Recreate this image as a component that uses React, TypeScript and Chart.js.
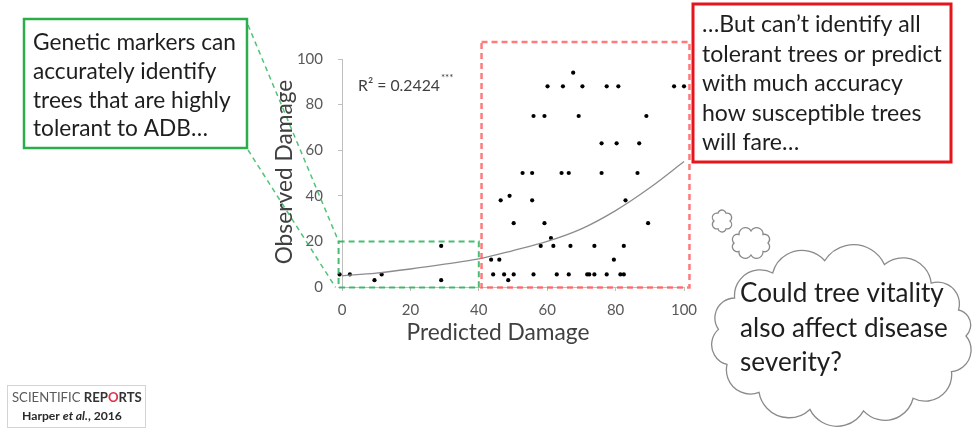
import React, { useEffect, useRef } from 'react';
import { Chart, registerables } from 'chart.js';

Chart.register(...registerables);

// ---------- DATA ----------
const predicted = [
  -0.7, 2.3, 9.5, 11.6, 29, 29, 43.6, 46, 44.2, 47.4,
  48.6, 50.2, 46.4, 49, 50.2, 52.8, 55.6, 55.6, 56, 59.2,
  56, 59.2, 58.1, 61.1, 61.8, 60.1, 62.8, 64.6, 64.2, 66.3,
  66.3, 66.8, 67.6, 69.2, 70.3, 71.7, 72.3, 73.8, 73.8, 75.9,
  75.9, 77.4, 77.4, 79.5, 80.3, 80.8, 81.4, 82.4, 82.4, 82.9,
  86.4, 86.9, 89, 89.5, 97.1, 100,
];
const observed = [
  5.5, 5.5, 3, 5.5, 18, 3, 12, 12, 5.5, 5.5,
  3, 5.5, 38, 40, 28, 50, 50, 38, 75, 75,
  5.5, 28, 18, 21.5, 18, 88, 5.5, 88, 50, 50,
  5.5, 18, 94, 75, 88, 5.5, 5.5, 5.5, 18, 63,
  50, 88, 5.5, 12, 63, 88, 5.5, 5.5, 18, 38,
  50, 63, 75, 28, 88, 88,
];
const trendX = [0, 10, 20, 30, 40, 50, 60, 70, 80, 90, 100];
const trendY = [4.9, 6.1, 7.9, 10, 12.3, 16, 20, 25.5, 33.5, 43.5, 55];
const xTicks = [0, 20, 40, 60, 80, 100];
const yTicks = [0, 20, 40, 60, 80, 100];

const xTitle = 'Predicted Damage';
const yTitle = 'Observed Damage';
const r2Label = 'R² = 0.2424';
const r2Sig = '***';
const greenText = ['Genetic markers can', 'accurately identify', 'trees that are highly', 'tolerant to ADB…'];
const redText = ['…But can’t identify all', 'tolerant trees or predict', 'with much accuracy', 'how susceptible trees', 'will fare…'];
const cloudText = ['Could tree vitality', 'also affect disease', 'severity?'];
const logoLine1: [string, string, string][] = [
  ['SCIENTIFIC ', 'normal', '#5a5a5a'],
  ['REP', 'bold', '#333333'],
  ['O', 'bold', '#e0334a'],
  ['RTS', 'bold', '#333333'],
];
const logoLine2: [string, string, string][] = [
  ['Harper ', 'bold', '#2a2a2a'],
  ['et al.', 'italic bold', '#2a2a2a'],
  [', 2016', 'bold', '#2a2a2a'],
];

// highlighted regions in data units
const greenRegion = { x0: -1, x1: 40, y0: -0.2, y1: 20 };
const redRegion = { x0: 40.8, x1: 101.6, y0: -0.2, y1: 107.5 };

const FONT = 'Lato';

function fitSize(ctx: CanvasRenderingContext2D, text: string, target: number, weight = 'normal') {
  ctx.font = `${weight} 100px ${FONT}`;
  return (100 * target) / ctx.measureText(text).width;
}

function fitParts(ctx: CanvasRenderingContext2D, parts: [string, string, string][], target: number) {
  let w = 0;
  parts.forEach(([t, wt]) => {
    ctx.font = `${wt} 100px ${FONT}`;
    w += ctx.measureText(t).width;
  });
  return (100 * target) / w;
}

function drawParts(ctx: CanvasRenderingContext2D, parts: [string, string, string][], x: number, y: number, size: number) {
  let lx = x;
  parts.forEach(([t, w, c]) => {
    ctx.font = `${w} ${size}px ${FONT}`;
    ctx.fillStyle = c;
    ctx.fillText(t, lx, y);
    lx += ctx.measureText(t).width;
  });
}

function cloudPath(ctx: CanvasRenderingContext2D, cx: number, cy: number, rx: number, ry: number, angles: number[], bulge: number) {
  const pts = angles.map((a) => [cx + rx * Math.cos((a * Math.PI) / 180), cy + ry * Math.sin((a * Math.PI) / 180)]);
  ctx.beginPath();
  for (let i = 0; i < pts.length; i++) {
    const [x1, y1] = pts[i];
    const [x2, y2] = pts[(i + 1) % pts.length];
    const mx = (x1 + x2) / 2, my = (y1 + y2) / 2;
    const dx = x2 - x1, dy = y2 - y1;
    const c = Math.hypot(dx, dy);
    const nx = dy / c, ny = -dx / c;
    const h = bulge * c;
    const r = (c * c / 4 + h * h) / (2 * h);
    const ccx = mx - nx * (r - h), ccy = my - ny * (r - h);
    const a1 = Math.atan2(y1 - ccy, x1 - ccx);
    const a2 = Math.atan2(y2 - ccy, x2 - ccx);
    if (i === 0) ctx.moveTo(x1, y1);
    ctx.arc(ccx, ccy, r, a1, a2, false);
  }
  ctx.closePath();
}

const overlayPlugin = {
  id: 'overlay',
  afterDatasetsDraw(chart: any) {
    const { ctx, scales } = chart;
    const x = scales.x, y = scales.y;
    ctx.save();
    // green region
    ctx.setLineDash([6, 4]);
    ctx.lineWidth = 2;
    ctx.strokeStyle = 'rgba(40,178,90,0.85)';
    const gx0 = x.getPixelForValue(greenRegion.x0), gx1 = x.getPixelForValue(greenRegion.x1);
    const gy0 = y.getPixelForValue(greenRegion.y0), gy1 = y.getPixelForValue(greenRegion.y1);
    ctx.strokeRect(gx0, gy1, gx1 - gx0, gy0 - gy1);
    // red region
    ctx.strokeStyle = 'rgba(255,90,90,0.8)';
    ctx.lineWidth = 2.5;
    const rx0 = x.getPixelForValue(redRegion.x0), rx1 = x.getPixelForValue(redRegion.x1);
    const ry0 = y.getPixelForValue(redRegion.y0), ry1 = y.getPixelForValue(redRegion.y1);
    ctx.strokeRect(rx0, ry1, rx1 - rx0, ry0 - ry1);
    // connectors from green box
    ctx.lineWidth = 1.5;
    ctx.setLineDash([5, 4]);
    ctx.strokeStyle = 'rgba(50,185,95,0.85)';
    ctx.beginPath();
    ctx.moveTo(248, 25);
    ctx.lineTo(gx0, gy1);
    ctx.moveTo(248, 150);
    ctx.lineTo(gx0 - 3, gy0);
    ctx.stroke();
    ctx.restore();
  },
  afterDraw(chart: any) {
    const { ctx } = chart;
    ctx.save();
    ctx.setLineDash([]);
    ctx.textBaseline = 'middle';
    ctx.textAlign = 'left';

    // axis titles
    const ts = fitSize(ctx, xTitle, 183);
    ctx.font = `${ts}px ${FONT}`;
    ctx.fillStyle = '#404040';
    ctx.textAlign = 'center';
    ctx.fillText(xTitle, 498, 333);
    ctx.save();
    ctx.translate(285, 172);
    ctx.rotate(-Math.PI / 2);
    ctx.fillText(yTitle, 0, 0);
    ctx.restore();
    ctx.textAlign = 'left';

    // R2 label
    const rs = fitSize(ctx, r2Label, 82);
    ctx.font = `${rs}px ${FONT}`;
    ctx.fillStyle = '#404040';
    ctx.fillText(r2Label, 358, 86);
    const rw = ctx.measureText(r2Label).width;
    ctx.font = `${rs * 0.62}px ${FONT}`;
    ctx.fillText(r2Sig, 358 + rw + 1, 78);

    // green box
    ctx.lineWidth = 2.5;
    ctx.strokeStyle = '#2aae4c';
    ctx.fillStyle = '#ffffff';
    ctx.fillRect(24, 19, 223, 129);
    ctx.strokeRect(24, 19, 223, 129);
    const gs = fitSize(ctx, greenText[0], 203);
    ctx.font = `${gs}px ${FONT}`;
    ctx.fillStyle = '#1e1e1e';
    greenText.forEach((t, i) => ctx.fillText(t, 33, 43 + i * 28.7));

    // red box
    ctx.lineWidth = 3;
    ctx.strokeStyle = '#e8141c';
    ctx.fillStyle = '#ffffff';
    ctx.fillRect(693, 4, 258, 158);
    ctx.strokeRect(693, 4, 258, 158);
    const rsz = fitSize(ctx, redText[1], 240);
    ctx.font = `${rsz}px ${FONT}`;
    ctx.fillStyle = '#1e1e1e';
    redText.forEach((t, i) => ctx.fillText(t, 702, 25 + i * 29.5));

    // cloud
    ctx.lineWidth = 1.3;
    ctx.strokeStyle = '#8a8a8a';
    ctx.fillStyle = '#ffffff';
    cloudPath(ctx, 722, 221, 8, 9, [0, 60, 120, 180, 240, 300], 0.4);
    ctx.fill(); ctx.stroke();
    cloudPath(ctx, 751, 243, 17, 12, [0, 45, 90, 135, 180, 225, 270, 315], 0.4);
    ctx.fill(); ctx.stroke();
    cloudPath(ctx, 842, 336, 124, 76, [0, 28, 55, 80, 105, 132, 158, 185, 210, 236, 262, 290, 316, 340], 0.3);
    ctx.fill(); ctx.stroke();
    const cs = fitSize(ctx, cloudText[1], 208);
    ctx.font = `${cs}px ${FONT}`;
    ctx.fillStyle = '#1e1e1e';
    cloudText.forEach((t, i) => ctx.fillText(t, 740, 294 + i * 34.5));

    // logo
    ctx.lineWidth = 1;
    ctx.strokeStyle = '#d4d4d4';
    ctx.strokeRect(7.5, 385.5, 138, 42);
    drawParts(ctx, logoLine1, 12, 398, fitParts(ctx, logoLine1, 130));
    drawParts(ctx, logoLine2, 22, 416, fitParts(ctx, logoLine2, 100));
    ctx.restore();
  },
};

export default function App() {
  const ref = useRef<HTMLCanvasElement>(null);
  useEffect(() => {
    const points = predicted.map((v, i) => ({ x: v, y: observed[i] }));
    const trend = trendX.map((v, i) => ({ x: v, y: trendY[i] }));
    const tickFont = { family: FONT, size: 15 };
    const chart = new Chart(ref.current!, {
      type: 'scatter',
      data: {
        datasets: [
          {
            label: 'Trend',
            data: trend,
            showLine: true,
            borderColor: '#8c8c8c',
            borderWidth: 1.3,
            pointRadius: 0,
            cubicInterpolationMode: 'monotone',
            clip: false,
          } as any,
          {
            label: 'Trees',
            data: points,
            pointRadius: 2.1,
            pointBackgroundColor: '#000000',
            pointBorderWidth: 0,
            clip: false,
          } as any,
        ],
      },
      options: {
        responsive: false,
        animation: false,
        layout: { padding: { left: 262, top: 59, right: 291, bottom: 81 } },
        plugins: { legend: { display: false }, tooltip: { enabled: false } },
        scales: {
          x: {
            type: 'linear',
            min: 0,
            max: 100,
            afterFit: (s: any) => { s.height = 60; },
            afterBuildTicks: (s: any) => { s.ticks = xTicks.map((v) => ({ value: v })); },
            grid: { drawOnChartArea: false, drawTicks: true, tickLength: 4, color: '#bfbfbf' },
            border: { color: '#bfbfbf', width: 1 },
            ticks: { color: '#595959', font: tickFont, padding: 10, maxRotation: 0 },
          },
          y: {
            type: 'linear',
            min: 0,
            max: 100,
            afterFit: (s: any) => { s.width = 80; },
            afterBuildTicks: (s: any) => { s.ticks = yTicks.map((v) => ({ value: v })); },
            grid: { drawOnChartArea: false, drawTicks: true, tickLength: 4, color: '#bfbfbf' },
            border: { color: '#bfbfbf', width: 1 },
            ticks: { color: '#595959', font: tickFont, padding: 15 },
          },
        },
      },
      plugins: [overlayPlugin],
    });
    return () => chart.destroy();
  }, []);
  return (
    <div style={{ position: 'fixed', left: 0, top: 0, width: 975, height: 428, background: '#ffffff' }}>
      <canvas ref={ref} width={975} height={428} style={{ display: 'block', width: 975, height: 428 }} />
    </div>
  );
}
